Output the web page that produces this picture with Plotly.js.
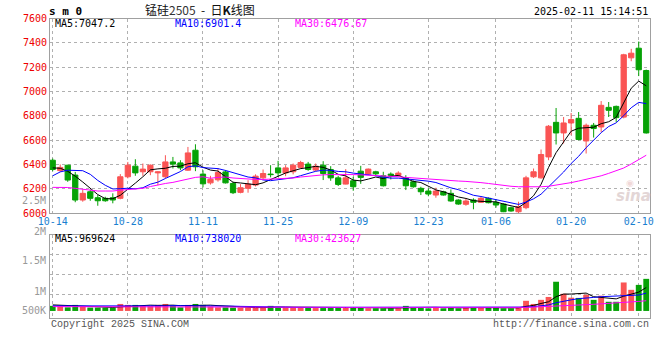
<!DOCTYPE html>
<html><head><meta charset="utf-8">
<script src="https://cdn.plot.ly/plotly-3.0.1.min.js"></script>
<style>html,body{margin:0;padding:0;background:#fff}#chart{width:660px;height:360px}</style>
</head><body><div id="chart"></div>
<script>
// ---------- data ----------
const dates = [
 '2024-10-14','2024-10-15','2024-10-16','2024-10-17','2024-10-18','2024-10-21','2024-10-22','2024-10-23','2024-10-24','2024-10-25',
 '2024-10-28','2024-10-29','2024-10-30','2024-10-31','2024-11-01','2024-11-04','2024-11-05','2024-11-06','2024-11-07','2024-11-08',
 '2024-11-11','2024-11-12','2024-11-13','2024-11-14','2024-11-15','2024-11-18','2024-11-19','2024-11-20','2024-11-21','2024-11-22',
 '2024-11-25','2024-11-26','2024-11-27','2024-11-28','2024-11-29','2024-12-02','2024-12-03','2024-12-04','2024-12-05','2024-12-06',
 '2024-12-09','2024-12-10','2024-12-11','2024-12-12','2024-12-13','2024-12-16','2024-12-17','2024-12-18','2024-12-19','2024-12-20',
 '2024-12-23','2024-12-24','2024-12-25','2024-12-26','2024-12-27','2024-12-30','2024-12-31','2025-01-02','2025-01-03','2025-01-06',
 '2025-01-07','2025-01-08','2025-01-09','2025-01-10','2025-01-13','2025-01-14','2025-01-15','2025-01-16','2025-01-17','2025-01-20',
 '2025-01-21','2025-01-22','2025-01-23','2025-01-24','2025-01-27','2025-02-05','2025-02-06','2025-02-07','2025-02-10','2025-02-11'];
const openP  = [6436,6351,6395,6314,6109,6177,6128,6123,6128,6123, 6300,6387,6341,6341,6332,6300,6422,6414,6354,6518,
                6322,6250,6275,6340,6245,6172,6205,6232,6291,6322, 6373,6332,6341,6377,6404,6355,6395,6360,6291,6240,
                6267,6346,6322,6341,6308,6322,6310,6291,6259,6205, 6183,6150,6177,6164,6109,6074,6109,6090,6123,6090,
                6076,6046,6013,6046,6300,6291,6463,6747,6660,6742, 6780,6594,6723,6709,6870,6878,6790,7277,7356,7173];
const highP  = [6450,6401,6398,6340,6196,6196,6150,6136,6164,6322, 6422,6444,6409,6401,6345,6477,6463,6436,6545,6567,
                6354,6308,6370,6354,6259,6240,6272,6320,6360,6395, 6431,6395,6409,6431,6422,6409,6428,6387,6308,6363,
                6300,6390,6368,6349,6341,6336,6345,6313,6270,6218, 6205,6210,6185,6196,6115,6123,6123,6140,6130,6117,
                6082,6055,6095,6308,6368,6524,6725,6865,6791,6824, 6832,6737,6742,6922,6914,6885,7310,7351,7411,7180];
const lowP   = [6346,6340,6259,6091,6095,6103,6062,6095,6082,6115, 6287,6308,6308,6313,6230,6287,6368,6354,6349,6346,
                6213,6236,6260,6245,6158,6164,6169,6220,6273,6295, 6300,6305,6320,6368,6349,6345,6273,6267,6224,6237,
                6185,6242,6315,6308,6220,6278,6300,6191,6210,6150, 6140,6128,6145,6095,6070,6062,6033,6085,6082,6046,
                6010,6013,6000,6033,6290,6285,6436,6565,6573,6641, 6600,6491,6622,6668,6791,6750,6780,7249,7127,6655];
const closeP = [6360,6377,6273,6109,6164,6123,6103,6103,6109,6300, 6395,6332,6363,6395,6340,6422,6404,6373,6496,6382,
                6242,6280,6335,6250,6169,6210,6240,6305,6327,6318, 6332,6373,6395,6417,6360,6387,6327,6291,6237,6291,
                6218,6295,6363,6324,6226,6312,6330,6226,6218,6177, 6158,6183,6150,6101,6076,6101,6090,6123,6087,6068,
                6013,6019,6054,6291,6341,6483,6715,6660,6742,6770, 6606,6723,6696,6887,6846,6786,7302,7315,7179,6660];
const ma5  = [6373,6370,6345,6305,6257,6209,6154,6120,6120,6148, 6202,6248,6300,6357,6365,6370,6385,6387,6407,6415,
              6379,6355,6347,6298,6255,6249,6241,6235,6250,6280, 6304,6331,6349,6367,6375,6386,6377,6356,6320,6307,
              6273,6266,6281,6298,6285,6304,6311,6284,6262,6253, 6222,6192,6177,6154,6134,6122,6104,6098,6095,6094,
              6076,6062,6048,6089,6144,6238,6377,6498,6588,6674, 6699,6700,6707,6736,6752,6788,6903,7027,7086,7047];
const ma10 = [6308,6340,6354,6354,6350,6320,6270,6230,6200,6202, 6206,6201,6210,6239,6256,6286,6316,6343,6382,6390,
              6375,6370,6367,6352,6335,6314,6298,6291,6274,6268, 6277,6286,6292,6309,6328,6345,6354,6353,6344,6341,
              6330,6322,6319,6309,6296,6289,6289,6283,6281,6270, 6264,6253,6231,6209,6194,6172,6148,6138,6125,6114,
              6099,6083,6073,6092,6119,6157,6219,6273,6339,6409, 6468,6539,6603,6662,6713,6743,6802,6867,6911,6901];
const ma30 = [6213,6213,6212,6205,6196,6188,6183,6183,6183,6190, 6196,6200,6205,6220,6235,6245,6254,6268,6278,6295,
              6300,6288,6295,6298,6290,6285,6280,6278,6278,6280, 6283,6286,6290,6298,6305,6310,6316,6318,6320,6322,
              6318,6316,6314,6310,6308,6305,6300,6295,6290,6286, 6282,6275,6272,6268,6265,6262,6259,6252,6245,6236,
              6228,6222,6218,6216,6216,6218,6222,6230,6240,6252, 6265,6278,6292,6308,6328,6348,6372,6405,6440,6477];
const volume = [210000,220000,150000,250000,180000,140000,140000,140000,140000,290000, 250000,250000,210000,200000,250000,290000,210000,150000,250000,290000,
                250000,180000,150000,150000,140000,140000,140000,140000,150000,210000, 140000,140000,140000,140000,140000,120000,120000,140000,150000,150000,
                150000,150000,110000,110000,110000,110000,110000,210000,150000,150000, 110000,150000,110000,150000,110000,150000,150000,150000,150000,150000,
                110000,110000,150000,420000,290000,460000,580000,1210000,710000,550000, 540000,670000,460000,630000,380000,380000,1180000,875000,1080000,1330000];
const volMa5  = [250000,240000,220000,210000,200000,190000,170000,150000,150000,170000, 190000,210000,230000,240000,230000,240000,240000,220000,230000,240000,
                 250000,240000,220000,200000,170000,150000,140000,140000,140000,160000, 160000,160000,160000,160000,140000,140000,130000,130000,130000,140000,
                 140000,150000,140000,130000,130000,120000,110000,130000,140000,150000, 150000,150000,140000,130000,130000,130000,140000,140000,150000,150000,
                 140000,130000,130000,190000,230000,310000,380000,590000,700000,700000, 720000,740000,590000,570000,540000,500000,610000,690000,780000,969624];
const volMa10 = [210000,210000,210000,210000,210000,200000,190000,180000,180000,180000, 180000,180000,190000,200000,210000,210000,220000,220000,220000,230000,
                 230000,230000,220000,210000,200000,190000,190000,180000,170000,170000, 160000,160000,150000,150000,150000,150000,150000,150000,140000,140000,
                 140000,140000,140000,140000,140000,140000,130000,130000,130000,130000, 130000,140000,140000,140000,140000,140000,140000,140000,140000,140000,
                 140000,140000,140000,160000,180000,210000,250000,340000,410000,460000, 510000,550000,560000,590000,600000,600000,620000,640000,660000,738020];
const volMa30 = [180000,180000,180000,180000,175000,175000,170000,170000,170000,170000, 170000,170000,170000,170000,170000,170000,170000,170000,170000,170000,
                 170000,170000,170000,170000,170000,168000,166000,165000,165000,165000, 162000,160000,160000,158000,156000,155000,153000,152000,150000,150000,
                 148000,147000,146000,145000,144000,143000,142000,142000,142000,141000, 140000,140000,140000,139000,138000,138000,137000,137000,136000,136000,
                 135000,135000,135000,150000,160000,170000,180000,200000,215000,230000, 245000,260000,275000,290000,305000,320000,345000,370000,395000,423627];
const tickDates  = ['2024-10-14','2024-10-28','2024-11-11','2024-11-25','2024-12-09','2024-12-23','2025-01-06','2025-01-20','2025-02-10'];
const tickLabels = ['10-14','10-28','11-11','11-25','12-09','12-23','01-06','01-20','02-10'];
const priceTicks = [6000,6200,6400,6600,6800,7000,7200,7400,7600];
const volLabels  = ['2.5M','2M','1.5M','1M','500K'];
const chartTitle = '锰硅<span style="color:#333">2505</span>&nbsp; - &nbsp;日<b>K</b>线图';
const symbolText = 's m 0';
const stampText  = '2025-02-11 15:14:51';
const maLabels   = ['MA5:7047.2','MA10:6901.4','MA30:6476.67'];
const volMaLabels= ['MA5:969624','MA10:738020','MA30:423627'];

// ---------- styling / layout ----------
const W = 660, H = 360;
const RED = '#fa5454', GREEN = '#06a206';
const MONO = 'DejaVu Sans Mono, monospace';
const GRID = '#b0b0b0', BORDER = '#a0a0a0';
const px = x => x / W, py = y => 1 - y / H;
const volColors = closeP.map((c, i) => c >= openP[i] ? RED : GREEN);

const traces = [
  {type:'candlestick', x:dates, open:openP, high:highP, low:lowP, close:closeP, xaxis:'x', yaxis:'y',
   increasing:{line:{color:RED,width:1}, fillcolor:RED},
   decreasing:{line:{color:GREEN,width:1}, fillcolor:GREEN},
   whiskerwidth:0, hoverinfo:'skip', showlegend:false},
  {type:'scatter', mode:'lines', x:dates, y:ma5,  line:{color:'#000000',width:1}, xaxis:'x', yaxis:'y', hoverinfo:'skip', showlegend:false},
  {type:'scatter', mode:'lines', x:dates, y:ma10, line:{color:'#0000ff',width:1}, xaxis:'x', yaxis:'y', hoverinfo:'skip', showlegend:false},
  {type:'scatter', mode:'lines', x:dates, y:ma30, line:{color:'#ff00ff',width:1}, xaxis:'x', yaxis:'y', hoverinfo:'skip', showlegend:false},
  {type:'bar', x:dates, y:volume, marker:{color:volColors, line:{width:0}}, xaxis:'x2', yaxis:'y2', hoverinfo:'skip', showlegend:false},
  {type:'scatter', mode:'lines', x:dates, y:volMa5,  line:{color:'#000000',width:1}, xaxis:'x2', yaxis:'y2', hoverinfo:'skip', showlegend:false},
  {type:'scatter', mode:'lines', x:dates, y:volMa10, line:{color:'#0000ff',width:1}, xaxis:'x2', yaxis:'y2', hoverinfo:'skip', showlegend:false},
  {type:'scatter', mode:'lines', x:dates, y:volMa30, line:{color:'#ff00ff',width:1}, xaxis:'x2', yaxis:'y2', hoverinfo:'skip', showlegend:false}
];

const xdom = [px(50), px(650)];
const commonX = {type:'category', domain:xdom, range:[-0.36, 79.5], showgrid:true, gridcolor:GRID, griddash:'dot', gridwidth:1,
  showline:true, linecolor:BORDER, linewidth:1, mirror:true, ticks:'', zeroline:false, fixedrange:true,
  tickvals:tickDates, ticktext:tickLabels, rangeslider:{visible:false}};

const ann = [];
const addText = (text, x, y, xanchor, color, size, family, extra) => ann.push(Object.assign({
  text, x:px(x), y:py(y), xref:'paper', yref:'paper', xanchor, yanchor:'middle', showarrow:false,
  font:{family:family||MONO, size:size||10, color}, borderpad:0}, extra||{}));

addText(symbolText, 48, 11, 'left', '#000', 11, MONO, {font:{family:MONO,size:11,color:'#000',weight:'bold'}});
addText(chartTitle, 200, 9.5, 'center', '#111', 12, 'Noto Sans CJK SC, sans-serif');
addText(stampText, 649, 11.5, 'right', '#000', 10);
addText(maLabels[0], 54, 23.5, 'left', '#000000');
addText(maLabels[1], 173.5, 23.5, 'left', '#0000ff');
addText(maLabels[2], 293.5, 23.5, 'left', '#ff00ff');
addText(volMaLabels[0], 54, 238.5, 'left', '#000000');
addText(volMaLabels[1], 173.5, 238.5, 'left', '#0000ff');
addText(volMaLabels[2], 294, 238.5, 'left', '#ff00ff');
const volLabelY = [200.5, 231, 260.5, 291, 310.5];
volLabels.forEach((t, i) => addText(t, 46.5, volLabelY[i], 'right', '#999999'));
addText('Copyright 2025 SINA.COM', 49.5, 324.5, 'left', '#555555', 10, 'Liberation Mono, monospace');
addText('http://finance.sina.com.cn', 649.5, 324.5, 'right', '#555555', 10, 'Liberation Mono, monospace');
addText('<i><b>sina</b></i>', 633, 196, 'center', '#e3d6d6', 15, 'DejaVu Sans, sans-serif');
addText('◉', 630, 183, 'center', '#f0d8d8', 9, 'DejaVu Sans, sans-serif');

const layout = {
  width:W, height:H, margin:{l:0,r:0,t:0,b:0,pad:0}, paper_bgcolor:'#fff', plot_bgcolor:'#fff',
  showlegend:false, hovermode:false, boxgap:0.3, boxgroupgap:0, bargap:0.22,
  font:{family:MONO, size:10},
  xaxis: Object.assign({}, commonX, {anchor:'y', ticklabelstandoff:-1, tickfont:{family:MONO,size:10,color:'#1a7fd0'}}),
  xaxis2: Object.assign({}, commonX, {anchor:'y2', matches:'x', showticklabels:false}),
  yaxis: {domain:[py(213.3), py(18.5)], range:[6000,7600], tickvals:priceTicks, ticks:'',
    tickfont:{family:MONO,size:10,color:'#ee0000'}, showgrid:true, gridcolor:GRID, griddash:'dot', gridwidth:1,
    showline:true, linecolor:BORDER, linewidth:1, mirror:true, zeroline:false, fixedrange:true, anchor:'x'},
  yaxis2: {domain:[py(318), py(234.5)], range:[-292000, 3167000], tickvals:[666667,1500000,2333333], showticklabels:false, ticks:'',
    showgrid:true, gridcolor:GRID, griddash:'dot', gridwidth:1,
    showline:true, linecolor:BORDER, linewidth:1, mirror:true, zeroline:false, fixedrange:true, anchor:'x2'},
  annotations: ann
};
Plotly.newPlot('chart', traces, layout, {staticPlot:true, displayModeBar:false});
</script>
</body></html>
